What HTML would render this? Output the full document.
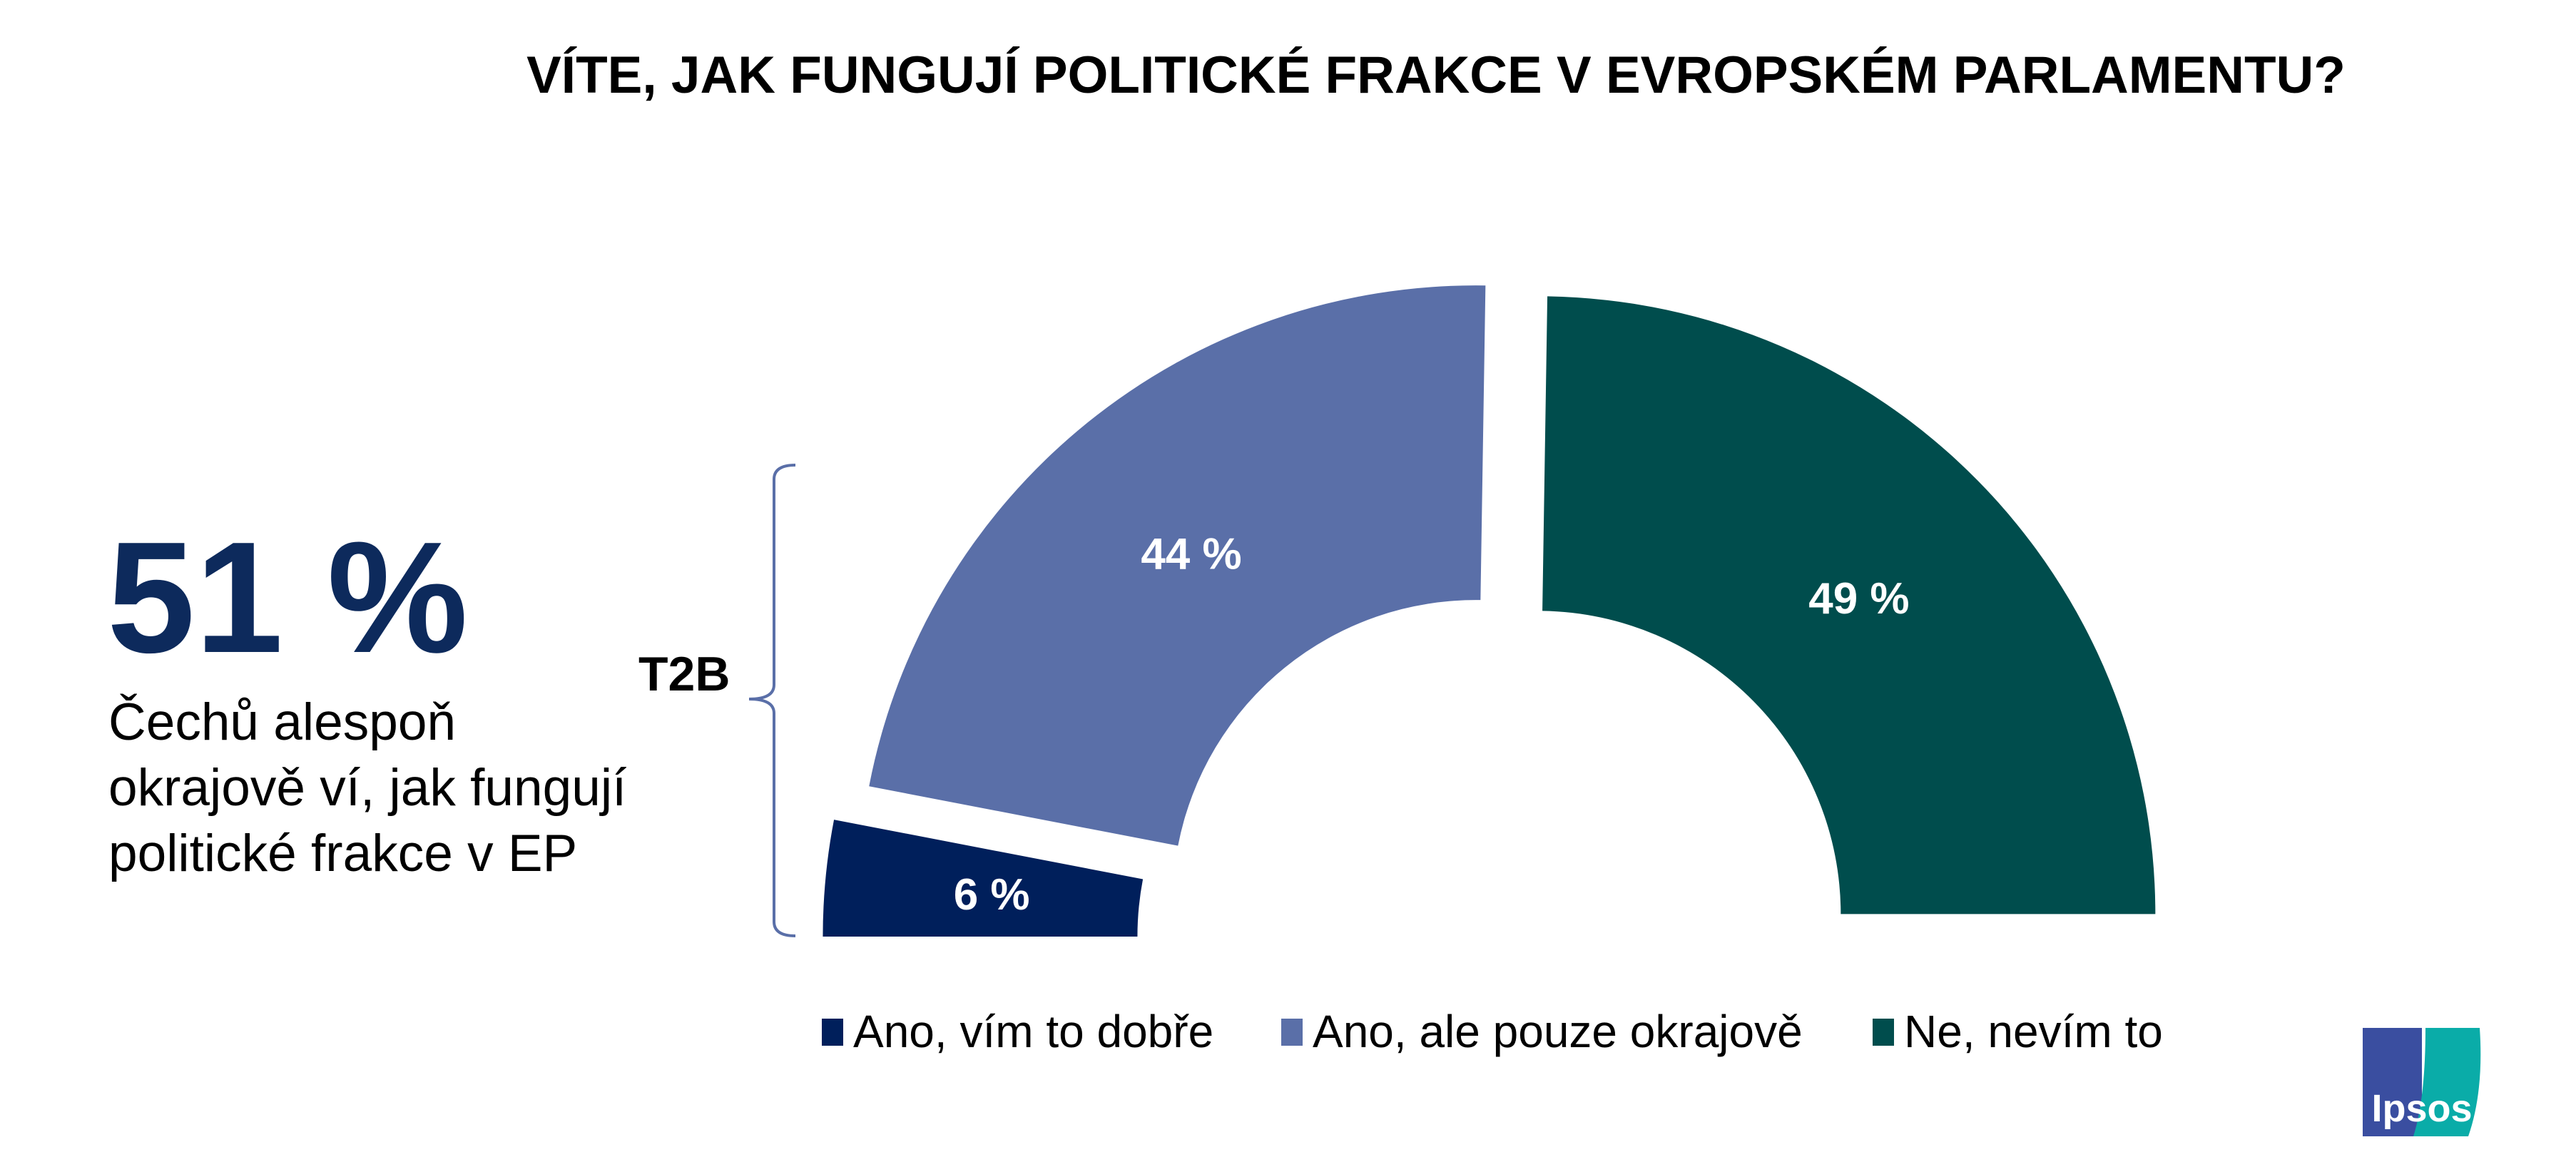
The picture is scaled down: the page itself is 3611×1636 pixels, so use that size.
<!DOCTYPE html>
<html><head><meta charset="utf-8"><style>
html,body{margin:0;padding:0;background:#fff;}
body{width:3611px;height:1631px;overflow:hidden;position:relative;font-family:"Liberation Sans",Arial,sans-serif;}
</style></head><body>
<svg id="chart" width="3611" height="1631" viewBox="0 0 3611 1631" xmlns="http://www.w3.org/2000/svg">
  <text x="2013" y="130" text-anchor="middle" font-family="Liberation Sans, sans-serif" font-weight="bold" font-size="73" fill="#000">VÍTE, JAK FUNGUJÍ POLITICKÉ FRAKCE V EVROPSKÉM PARLAMENTU?</text>
  <text x="150" y="914" font-family="Liberation Sans, sans-serif" font-weight="bold" font-size="222" fill="#0d2a5c">51 %</text>
  <g font-family="Liberation Sans, sans-serif" font-size="73" fill="#000">
    <text x="152" y="1037">Čechů alespoň</text>
    <text x="152" y="1129">okrajově ví, jak fungují</text>
    <text x="152" y="1221">politické frakce v EP</text>
  </g>
  <text x="895" y="968" font-family="Liberation Sans, sans-serif" font-weight="bold" font-size="68" fill="#000">T2B</text>
  <path d="M1115,652 Q1085,652 1085,672 L1085,960 Q1085,980 1050,980 Q1085,980 1085,1000 L1085,1292 Q1085,1312 1115,1312" fill="none" stroke="#5a6fa8" stroke-width="4"/>
  <g id="slices"></g>
  <g id="legend" font-family="Liberation Sans, sans-serif" font-size="64" fill="#000"></g>
  <g>
    <path d="M3312,1441 L3395,1441 L3395,1593 L3312,1593 Z" fill="#3a4ea0"/>
    <path d="M3400,1441 L3476,1441 Q3482,1530 3460,1593 L3383,1593 Q3400,1540 3400,1441 Z" fill="#0aaca8"/>
    <text x="3395" y="1572" text-anchor="middle" font-family="Liberation Sans, sans-serif" font-weight="bold" font-size="54" fill="#fff">Ipsos</text>
  </g>
</svg>
<script>
const categories = ["Ano, vím to dobře", "Ano, ale pouze okrajově", "Ne, nevím to"];
const values = [6, 44, 49];
const valueLabels = ["6 %", "44 %", "49 %"];
const colors = ["#001f5b", "#5a6fa8", "#004d4d"];
const explode = [95, 72, 58];

const NS = "http://www.w3.org/2000/svg";
const cx = 2114, cy = 1322, R = 866, r = 425;
const total = values.reduce((a, b) => a + b, 0);
function angleOf(v){ return Math.PI - v / total * Math.PI; }
function pt(a, rad, ox, oy){ return [cx + ox + rad * Math.cos(a), cy + oy - rad * Math.sin(a)]; }
const g = document.getElementById('slices');
let cum = 0;
values.forEach((v, i) => {
  const a0 = angleOf(cum), a1 = angleOf(cum + v), am = (a0 + a1) / 2;
  cum += v;
  const ox = explode[i] * Math.cos(am), oy = -explode[i] * Math.sin(am);
  const p0 = pt(a0, R, ox, oy), p1 = pt(a1, R, ox, oy), q1 = pt(a1, r, ox, oy), q0 = pt(a0, r, ox, oy);
  const large = (a0 - a1) > Math.PI ? 1 : 0;
  const path = document.createElementNS(NS, 'path');
  path.setAttribute('d', `M${p0[0]},${p0[1]} A${R},${R} 0 ${large} 1 ${p1[0]},${p1[1]} L${q1[0]},${q1[1]} A${r},${r} 0 ${large} 0 ${q0[0]},${q0[1]} Z`);
  path.setAttribute('fill', colors[i]);
  
  
  g.appendChild(path);
  const lp = pt(am, 0.73 * R, ox, oy);
  const t = document.createElementNS(NS, 'text');
  t.setAttribute('x', lp[0]); t.setAttribute('y', lp[1] + 22);
  t.setAttribute('text-anchor', 'middle');
  t.setAttribute('font-family', 'Liberation Sans, sans-serif');
  t.setAttribute('font-weight', 'bold'); t.setAttribute('font-size', '62'); t.setAttribute('fill', '#fff');
  t.textContent = valueLabels[i];
  
  
  g.appendChild(t);
});
const lg = document.getElementById('legend');
const lx = [1152, 1796, 2625];
categories.forEach((c, i) => {
  const s = document.createElementNS(NS, 'rect');
  s.setAttribute('x', lx[i]); s.setAttribute('y', 1428); s.setAttribute('width', 30); s.setAttribute('height', 38);
  s.setAttribute('fill', colors[i]);
  
  
  lg.appendChild(s);
  const t = document.createElementNS(NS, 'text');
  t.setAttribute('x', lx[i] + 44); t.setAttribute('y', 1468);
  t.textContent = c;
  
  
  lg.appendChild(t);
});
</script>
</body></html>
